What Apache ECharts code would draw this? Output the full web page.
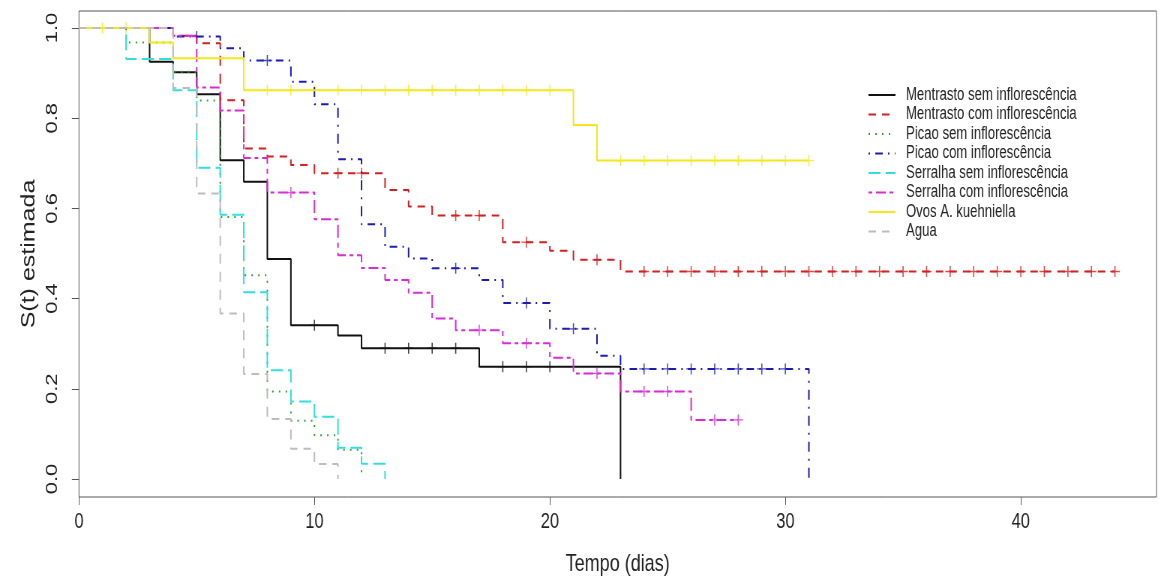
<!DOCTYPE html>
<html>
<head>
<meta charset="utf-8">
<script src="https://cdn.jsdelivr.net/npm/echarts@6/dist/echarts.min.js"></script>
<style>
html, body { margin: 0; padding: 0; background: #fff; overflow: hidden; }
/* the reference is horizontally squeezed, so draw wider and squeeze it the same way */
#chart { width: 1545px; height: 583px; transform: scaleX(0.75); transform-origin: 0 0; }
</style>
</head>
<body>
<div id="chart"></div>
<script>
var xTicks = [0, 10, 20, 30, 40];
var yTicks = [0, 0.2, 0.4, 0.6, 0.8, 1.0];

// Kaplan-Meier curves: event times, survival after each time, last follow-up, censored times
var mentrastoSemTimes = [0, 3, 4, 5, 6, 7, 8, 9, 11, 12, 17, 23];
var mentrastoSemSurv = [1, 0.925, 0.902, 0.853, 0.707, 0.659, 0.488, 0.341, 0.318, 0.290, 0.249, 0];
var mentrastoSemEnd = 23;
var mentrastoSemCensor = [10, 13, 14, 15, 16, 18, 19, 20];

var mentrastoComTimes = [0, 4, 5, 6, 7, 8, 9, 10, 13, 14, 15, 18, 20, 21, 23];
var mentrastoComSurv = [1, 0.983, 0.966, 0.840, 0.733, 0.715, 0.696, 0.678, 0.641, 0.604, 0.584, 0.525, 0.506, 0.486, 0.460];
var mentrastoComEnd = 44;
var mentrastoComCensor = [11, 12, 16, 17, 19, 22, 24, 25, 26, 27, 28, 29, 30, 31, 32, 33, 34, 35, 36, 37, 38, 39, 40, 41, 42, 43, 44];

var picaoSemTimes = [0, 2, 4, 5, 6, 7, 8, 9, 10, 11, 12];
var picaoSemSurv = [1, 0.968, 0.903, 0.839, 0.581, 0.452, 0.194, 0.129, 0.097, 0.065, 0];
var picaoSemEnd = 12;
var picaoSemCensor = [];

var picaoComTimes = [0, 4, 6, 7, 9, 10, 11, 12, 13, 14, 15, 17, 18, 20, 22, 23, 31];
var picaoComSurv = [1, 0.981, 0.955, 0.928, 0.881, 0.831, 0.709, 0.565, 0.515, 0.489, 0.467, 0.441, 0.390, 0.333, 0.273, 0.244, 0];
var picaoComEnd = 31;
var picaoComCensor = [5, 8, 16, 19, 21, 24, 25, 26, 27, 28, 29, 30];

var serralhaSemTimes = [0, 2, 4, 5, 6, 7, 8, 9, 10, 11, 12, 13];
var serralhaSemSurv = [1, 0.931, 0.862, 0.690, 0.586, 0.414, 0.241, 0.172, 0.138, 0.069, 0.034, 0];
var serralhaSemEnd = 13;
var serralhaSemCensor = [];

var serralhaComTimes = [0, 4, 5, 6, 7, 8, 10, 11, 12, 13, 14, 15, 16, 18, 20, 21, 23, 26];
var serralhaComSurv = [1, 0.983, 0.868, 0.817, 0.712, 0.635, 0.576, 0.496, 0.468, 0.441, 0.413, 0.356, 0.330, 0.301, 0.269, 0.234, 0.194, 0.131];
var serralhaComEnd = 28;
var serralhaComCensor = [9, 17, 19, 22, 24, 25, 27, 28];

var ovosTimes = [0, 3, 4, 7, 21, 22];
var ovosSurv = [1, 0.968, 0.933, 0.862, 0.785, 0.706];
var ovosEnd = 31;
var ovosCensor = [1, 2, 8, 9, 10, 11, 12, 13, 14, 15, 16, 17, 18, 19, 20, 23, 24, 25, 26, 27, 28, 29, 30, 31];

var aguaTimes = [0, 4, 5, 6, 7, 8, 9, 10, 11];
var aguaSurv = [1, 0.867, 0.633, 0.367, 0.233, 0.133, 0.067, 0.033, 0];
var aguaEnd = 11;
var aguaCensor = [];

var groups = [
    { name: 'Mentrasto sem inflorescência', times: mentrastoSemTimes, surv: mentrastoSemSurv, end: mentrastoSemEnd, censor: mentrastoSemCensor, color: '#111111', dash: 'solid' },
    { name: 'Mentrasto com inflorescência', times: mentrastoComTimes, surv: mentrastoComSurv, end: mentrastoComEnd, censor: mentrastoComCensor, color: '#D42020', dash: [10, 8] },
    { name: 'Picao sem inflorescência', times: picaoSemTimes, surv: picaoSemSurv, end: picaoSemEnd, censor: picaoSemCensor, color: '#32A032', dash: [2, 7] },
    { name: 'Picao com inflorescência', times: picaoComTimes, surv: picaoComSurv, end: picaoComEnd, censor: picaoComCensor, color: '#1C1CB4', dash: [2, 7, 10, 7] },
    { name: 'Serralha sem inflorescência', times: serralhaSemTimes, surv: serralhaSemSurv, end: serralhaSemEnd, censor: serralhaSemCensor, color: '#2EE0E0', dash: [16, 7] },
    { name: 'Serralha com inflorescência', times: serralhaComTimes, surv: serralhaComSurv, end: serralhaComEnd, censor: serralhaComCensor, color: '#D82BD8', dash: [5, 5, 13, 5] },
    { name: 'Ovos A. kuehniella', times: ovosTimes, surv: ovosSurv, end: ovosEnd, censor: ovosCensor, color: '#F4E81C', dash: 'solid' },
    { name: 'Agua', times: aguaTimes, surv: aguaSurv, end: aguaEnd, censor: aguaCensor, color: '#BDBDBD', dash: [10, 8] }
];

var plusPath = 'path://M0,4.4H10V5.6H0Z M4.4,0H5.6V10H4.4Z';
var labelFont = 'Liberation Sans, Arial, sans-serif';

function stepData(g) {
    var d = [];
    for (var i = 0; i < g.times.length; i++) {
        d.push([g.times[i], g.surv[i]]);
    }
    if (g.end > g.times[g.times.length - 1]) {
        d.push([g.end, g.surv[g.surv.length - 1]]);
    }
    return d;
}

function survAt(g, t) {
    var s = g.surv[0];
    for (var i = 0; i < g.times.length; i++) {
        if (g.times[i] <= t) s = g.surv[i];
    }
    return s;
}

var series = [];
groups.forEach(function (g) {
    series.push({
        name: g.name,
        type: 'line',
        step: 'end',
        data: stepData(g),
        symbol: 'none',
        showSymbol: false,
        silent: true,
        animation: false,
        lineStyle: { color: g.color, width: 2, type: g.dash },
        itemStyle: { color: g.color }
    });
    series.push({
        name: g.name + ' (censura)',
        type: 'scatter',
        data: g.censor.map(function (t) { return [t, survAt(g, t)]; }),
        symbol: plusPath,
        symbolSize: [13, 11],
        silent: true,
        animation: false,
        itemStyle: { color: g.color }
    });
});

var myChart = echarts.init(document.getElementById('chart'));
myChart.setOption({
    backgroundColor: '#ffffff',
    animation: false,
    grid: {
        left: 105.3, right: 3.1, top: 11, bottom: 86,
        show: true, borderColor: '#555', borderWidth: 1, backgroundColor: 'transparent'
    },
    legend: {
        data: groups.map(function (g) { return g.name; }),
        orient: 'vertical',
        left: 1157,
        top: 86,
        padding: 0,
        itemWidth: 36,
        itemHeight: 12,
        itemGap: 1.5,
        selectedMode: false,
        itemStyle: { opacity: 0, borderWidth: 0 },
        textStyle: { fontFamily: labelFont, fontSize: 17.5, color: '#222', lineHeight: 18, padding: [0, 0, 0, 9] }
    },
    xAxis: {
        type: 'value',
        min: 0,
        max: 45.76,
        name: 'Tempo (dias)',
        nameLocation: 'middle',
        nameGap: 55,
        nameTextStyle: { fontFamily: labelFont, fontSize: 24, color: '#222' },
        axisLine: { show: false, onZero: false },
        axisTick: { show: true, inside: false, length: 8, lineStyle: { color: '#555' }, customValues: xTicks },
        axisLabel: { fontFamily: labelFont, fontSize: 22, color: '#222', margin: 14, customValues: xTicks },
        splitLine: { show: false }
    },
    yAxis: {
        type: 'value',
        min: -0.04,
        max: 1.0377,
        name: 'S(t) estimada',
        nameLocation: 'middle',
        nameRotate: 90,
        nameGap: 54,
        nameTextStyle: { fontFamily: labelFont, fontSize: 25, color: '#222' },
        axisLine: { show: false, onZero: false },
        axisTick: { show: true, inside: false, length: 9.5, lineStyle: { color: '#555' }, customValues: yTicks },
        axisLabel: {
            fontFamily: labelFont, fontSize: 22, color: '#222', rotate: 90, margin: 24,
            customValues: yTicks,
            formatter: function (v) { return v.toFixed(1); }
        },
        splitLine: { show: false }
    },
    series: series
});
</script>
</body>
</html>
